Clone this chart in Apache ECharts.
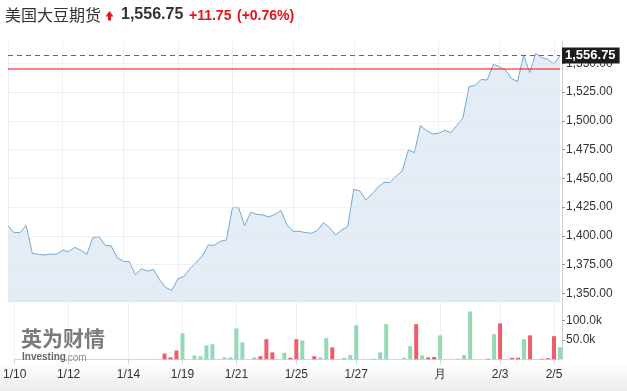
<!DOCTYPE html>
<html>
<head>
<meta charset="utf-8">
<script src="https://cdn.jsdelivr.net/npm/echarts@6/dist/echarts.min.js"></script>
<style>
html,body{margin:0;padding:0;background:#fff;}
#c{width:627px;height:391px;}
</style>
</head>
<body>
<div id="c"></div>
<script>
// ---- data ----
const price = [
  1408.6, 1402.8, 1402.8, 1409, 1384.8, 1384, 1383.3, 1384, 1384, 1387.4,
  1386.2, 1390, 1387.4, 1384, 1398.4, 1399.3, 1391.7, 1391.2, 1381, 1377.8,
  1377.5, 1366.2, 1371.4, 1369.4, 1370.6, 1361.6, 1355, 1352.6, 1362.5, 1364.8,
  1371.4, 1376.7, 1382.2, 1392, 1391.7, 1395.2, 1396.4, 1424.5, 1424.8, 1408.8,
  1420.4, 1418.7, 1418.1, 1416.4, 1418.7, 1421.9, 1409.4, 1403.9, 1403.9, 1402.8,
  1402.2, 1404.5, 1411.4, 1407.1, 1400.7, 1405.1, 1408, 1440.4, 1439, 1431.2,
  1436.4, 1442.2, 1446.5, 1446.5, 1452, 1456.4, 1474.6, 1472.3, 1495.8, 1491.4,
  1488.6, 1489.2, 1491.7, 1489.7, 1496, 1502.5, 1529.7, 1530.6, 1536, 1535.4,
  1549.1, 1547.1, 1544.2, 1536.7, 1534.1, 1557.2, 1541.9, 1558.7, 1554.9, 1553.5,
  1549.4, 1556.75
];
const volume = [
  null, null, null, null, null, null, null, null, null, null,
  null, null, null, null, null, null, null, null, null, null,
  null, null, null, null, null, 15000, 5000, 23000, 67000, null,
  10000, 8000, 36000, 39000, null, 5000, 5000, 80000, 44000, null,
  5000, 8000, 52000, 18000, null, 17000, 4000, 52000, 49000, null,
  8000, 5000, 55000, 31000, null, 4000, 11000, 88000, null, null,
  2000, 18000, 91000, null, null, 4000, 34000, 91000, 10000, 5000,
  6000, 62000, null, null, 1500, 11000, 124000, null, null, 1500,
  65000, 93000, null, 4000, 4000, 52000, 62000, null, 1500, 3000,
  60000, 31000
];
// 1 = up (green), -1 = down (red), 0 = none
const volumeDir = [
  0, 0, 0, 0, 0, 0, 0, 0, 0, 0,
  0, 0, 0, 0, 0, 0, 0, 0, 0, 0,
  0, 0, 0, 0, 0, -1, -1, -1, 1, 0,
  1, 1, 1, 1, 0, 1, 1, 1, 1, 0,
  1, -1, -1, -1, 0, 1, -1, -1, 1, 0,
  -1, 1, 1, -1, 0, 1, 1, 1, 0, 0,
  1, 1, 1, 0, 0, 1, 1, -1, 1, -1,
  -1, 1, 0, 0, 1, 1, 1, 0, 0, -1,
  1, -1, 0, -1, -1, 1, -1, 0, -1, -1,
  -1, 1
];
const tickLabelIdx = [0, 9, 19, 28, 37, 47, 57, 71, 81, 90];
const tickLabels = ['1/10', '1/12', '1/14', '1/19', '1/21', '1/25', '1/27', '月', '2/3', '2/5'];
const priceTicks = [1350, 1375, 1400, 1425, 1450, 1475, 1500, 1525, 1550];
const volumeTicks = [50000, 100000];
const lastPrice = 1556.75;
const prevClose = 1545.00;
const titleName = '美国大豆期货';
const changeText = '+11.75';
const changePctText = '(+0.76%)';

// ---- chart ----
const categories = price.map((_, i) => String(i));
const isTick = (i) => tickLabelIdx.indexOf(i) >= 0;
const fmt2 = (v) => v.toLocaleString('en-US', {minimumFractionDigits: 2, maximumFractionDigits: 2});
const UP = '#93d9b3', DOWN = '#ef5d6c', RED = '#e3131b';

const chart = echarts.init(document.getElementById('c'), null, {renderer: 'canvas'});
const option = {
  animation: false,
  textStyle: {fontFamily: 'Arial, "Liberation Sans", sans-serif'},
  grid: [
    {left: 8, right: 67, top: 42, bottom: 89.3},
    {left: 8, right: 67, top: 301.7, bottom: 31.7}
  ],
  xAxis: [
    {
      type: 'category', gridIndex: 0, data: categories, boundaryGap: false,
      axisLine: {show: true, lineStyle: {color: '#c6cad0'}},
      axisTick: {show: false}, axisLabel: {show: false},
      splitLine: {show: true, interval: isTick, lineStyle: {color: '#eef0f3'}}
    },
    {
      type: 'category', gridIndex: 1, data: categories, boundaryGap: false,
      axisLine: {show: true, lineStyle: {color: '#d3d6db'}},
      axisTick: {show: true, interval: isTick, length: 5, lineStyle: {color: '#d3d6db'}},
      axisLabel: {
        show: true, interval: isTick, color: '#333', fontSize: 12, margin: 9,
        formatter: (v, i) => { const k = tickLabelIdx.indexOf(i); return k >= 0 ? tickLabels[k] : ''; }
      },
      splitLine: {show: true, interval: isTick, lineStyle: {color: '#eef0f3'}}
    }
  ],
  yAxis: [
    {
      type: 'value', gridIndex: 0, position: 'right', offset: 2,
      min: 1342.7, max: 1568.5,
      axisLine: {show: true, lineStyle: {color: '#c9cdd3'}},
      axisTick: {show: true, length: 3, customValues: priceTicks, lineStyle: {color: '#999'}},
      axisLabel: {color: '#333', fontSize: 12, margin: 4, customValues: priceTicks, formatter: fmt2},
      splitLine: {show: false}
    },
    {
      type: 'value', gridIndex: 1, position: 'right', offset: 2,
      min: 0, max: 149200,
      axisLine: {show: true, lineStyle: {color: '#c9cdd3'}},
      axisTick: {show: true, length: 3, customValues: volumeTicks, lineStyle: {color: '#999'}},
      axisLabel: {color: '#333', fontSize: 12, margin: 4, customValues: volumeTicks,
        formatter: (v) => (v / 1000).toFixed(1) + 'k'},
      splitLine: {show: false}
    }
  ],
  series: [
    {
      type: 'line', xAxisIndex: 0, yAxisIndex: 0, data: price,
      symbol: 'none', smooth: false,
      lineStyle: {color: '#6ea9d9', width: 1},
      areaStyle: {color: '#e4edf5', opacity: 1, origin: 'start'},
      z: 3,
      markLine: {
        silent: true, symbol: 'none', animation: false,
        lineStyle: {color: '#666666', type: [5, 4], width: 1},
        data: [
          {yAxis: lastPrice,
            label: {show: true, position: 'end', distance: 2, formatter: () => fmt2(lastPrice),
              backgroundColor: '#1d1d1d', color: '#fff', fontWeight: 'bold', fontSize: 13,
              fontFamily: 'Arial', padding: [2, 4, 1, 3]}}
        ]
      }
    },
    {
      // faint horizontal grid lines at the price tick values
      type: 'line', xAxisIndex: 0, yAxisIndex: 0, data: [], z: 4, silent: true,
      markLine: {
        silent: true, symbol: 'none', animation: false, label: {show: false},
        lineStyle: {color: 'rgba(225,230,236,0.55)', type: 'solid', width: 1},
        data: priceTicks.map((v) => ({yAxis: v}))
      }
    },
    {
      // previous close reference line
      type: 'line', xAxisIndex: 0, yAxisIndex: 0, z: 5, silent: true,
      data: categories.map(() => prevClose),
      symbol: 'none',
      lineStyle: {color: '#ff0000', width: 1, type: 'solid'}
    },
    {
      type: 'bar', xAxisIndex: 1, yAxisIndex: 1, barWidth: 4,
      data: volume.map((v, i) => v == null ? '-' : {value: v, itemStyle: {color: volumeDir[i] > 0 ? UP : DOWN}})
    }
  ],
  graphic: [
    {
      type: 'rect', z: -5, silent: true,
      shape: {x: 0, y: 362, width: 627, height: 29},
      style: {fill: new echarts.graphic.LinearGradient(0, 0, 0, 1, [
        {offset: 0, color: '#ffffff'}, {offset: 1, color: '#ececec'}])}
    },
    {type: 'text', left: 5, top: 7, style: {text: titleName, font: '16px "Noto Sans CJK SC"', fill: '#333'}},
    {
      type: 'polygon', silent: true,
      shape: {points: [[105.5, 16.5], [109.5, 11], [113.5, 16.5], [111, 16.5], [111, 20.5], [108, 20.5], [108, 16.5]]},
      style: {fill: RED}
    },
    {type: 'text', left: 121, top: 7, style: {text: fmt2(lastPrice), font: 'bold 16px Arial', fill: '#333'}},
    {type: 'text', left: 189, top: 9, style: {text: changeText, font: 'bold 14px Arial', fill: RED}},
    {type: 'text', left: 237, top: 9, style: {text: changePctText, font: 'bold 14px Arial', fill: RED}},
    {type: 'text', left: 21, top: 328, z: 1, style: {text: '英为财情', font: 'bold 21px "Noto Sans CJK SC"', fill: 'rgba(100,100,100,0.85)'}},
    {type: 'text', left: 22, top: 352, z: 1, style: {text: 'Investing', font: 'bold 10px Arial', fill: 'rgba(85,85,85,0.9)'}},
    {type: 'text', left: 65, top: 353, z: 1, style: {text: '.com', font: '10px Arial', fill: 'rgba(130,130,130,0.9)'}}
  ]
};
chart.setOption(option);
</script>
</body>
</html>
